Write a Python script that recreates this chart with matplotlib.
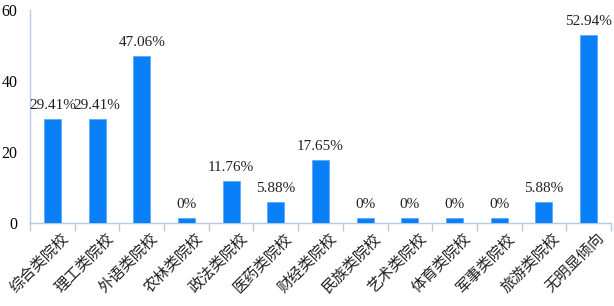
import numpy as np
import matplotlib as mpl
mpl.use('Agg')
import matplotlib.pyplot as plt
import matplotlib.transforms as mtransforms

#category names and percentage values
aCategory = ['综合类院校', '理工类院校', '外语类院校', '农林类院校', '政法类院校', '医药类院校',
             '财经类院校', '民族类院校', '艺术类院校', '体育类院校', '军事类院校', '旅游类院校', '无明显倾向']
aValue = [29.41, 29.41, 47.06, 0, 11.76, 5.88, 17.65, 0, 0, 0, 0, 5.88, 52.94]
#zero bars are drawn as a small stub in the original chart
dStub = 1.5
aLabel = ['29.41%', '29.41%', '47.06%', '0%', '11.76%', '5.88%', '17.65%',
          '0%', '0%', '0%', '0%', '5.88%', '52.94%']
aYtick = [0, 20, 40, 60]

sColor_bar = '#0A80F8'
sColor_axis = '#B4CBE6'

fig = plt.figure(figsize=(6.14, 3.06), dpi=100)
ax = fig.add_axes([0.049, 0.271, 0.946, 0.696])

x = np.arange(len(aCategory))
aHeight = [v if v > 0 else dStub for v in aValue]
ax.bar(x, aHeight, width=0.38, color=sColor_bar, edgecolor='#5AAAF8', linewidth=0.6, zorder=3)

for i in range(len(x)):
    ax.text(x[i], aHeight[i] + 2.0, aLabel[i], ha='center', va='bottom',
            fontsize=11, family='Liberation Serif', color='#222222')

ax.set_xlim(-0.5, len(aCategory) - 0.5)
ax.set_ylim(0, 60)
ax.set_yticks(aYtick)
ax.set_yticklabels([str(v) for v in aYtick], family='Liberation Serif', fontsize=11.5)
ax.tick_params(axis='y', length=0, pad=9)

ax.set_xticks(x)
ax.set_xticklabels(aCategory, rotation=45, ha='right', rotation_mode='anchor',
                   family='Noto Sans CJK SC', fontsize=11, color='#222222')
ax.tick_params(axis='x', which='major', length=0, pad=5)
#shift the rotated labels a little to the right, as in the original
offset = mtransforms.ScaledTranslation(0.08, 0, fig.dpi_scale_trans)
for lab in ax.get_xticklabels():
    lab.set_transform(lab.get_transform() + offset)
ax.set_xticks(np.arange(-0.5, len(aCategory), 1), minor=True)
ax.tick_params(axis='x', which='minor', length=6, color=sColor_axis, width=1)

for s in ['top', 'right']:
    ax.spines[s].set_visible(False)
for s in ['left', 'bottom']:
    ax.spines[s].set_color(sColor_axis)
    ax.spines[s].set_linewidth(1)

plt.savefig('out.png')
